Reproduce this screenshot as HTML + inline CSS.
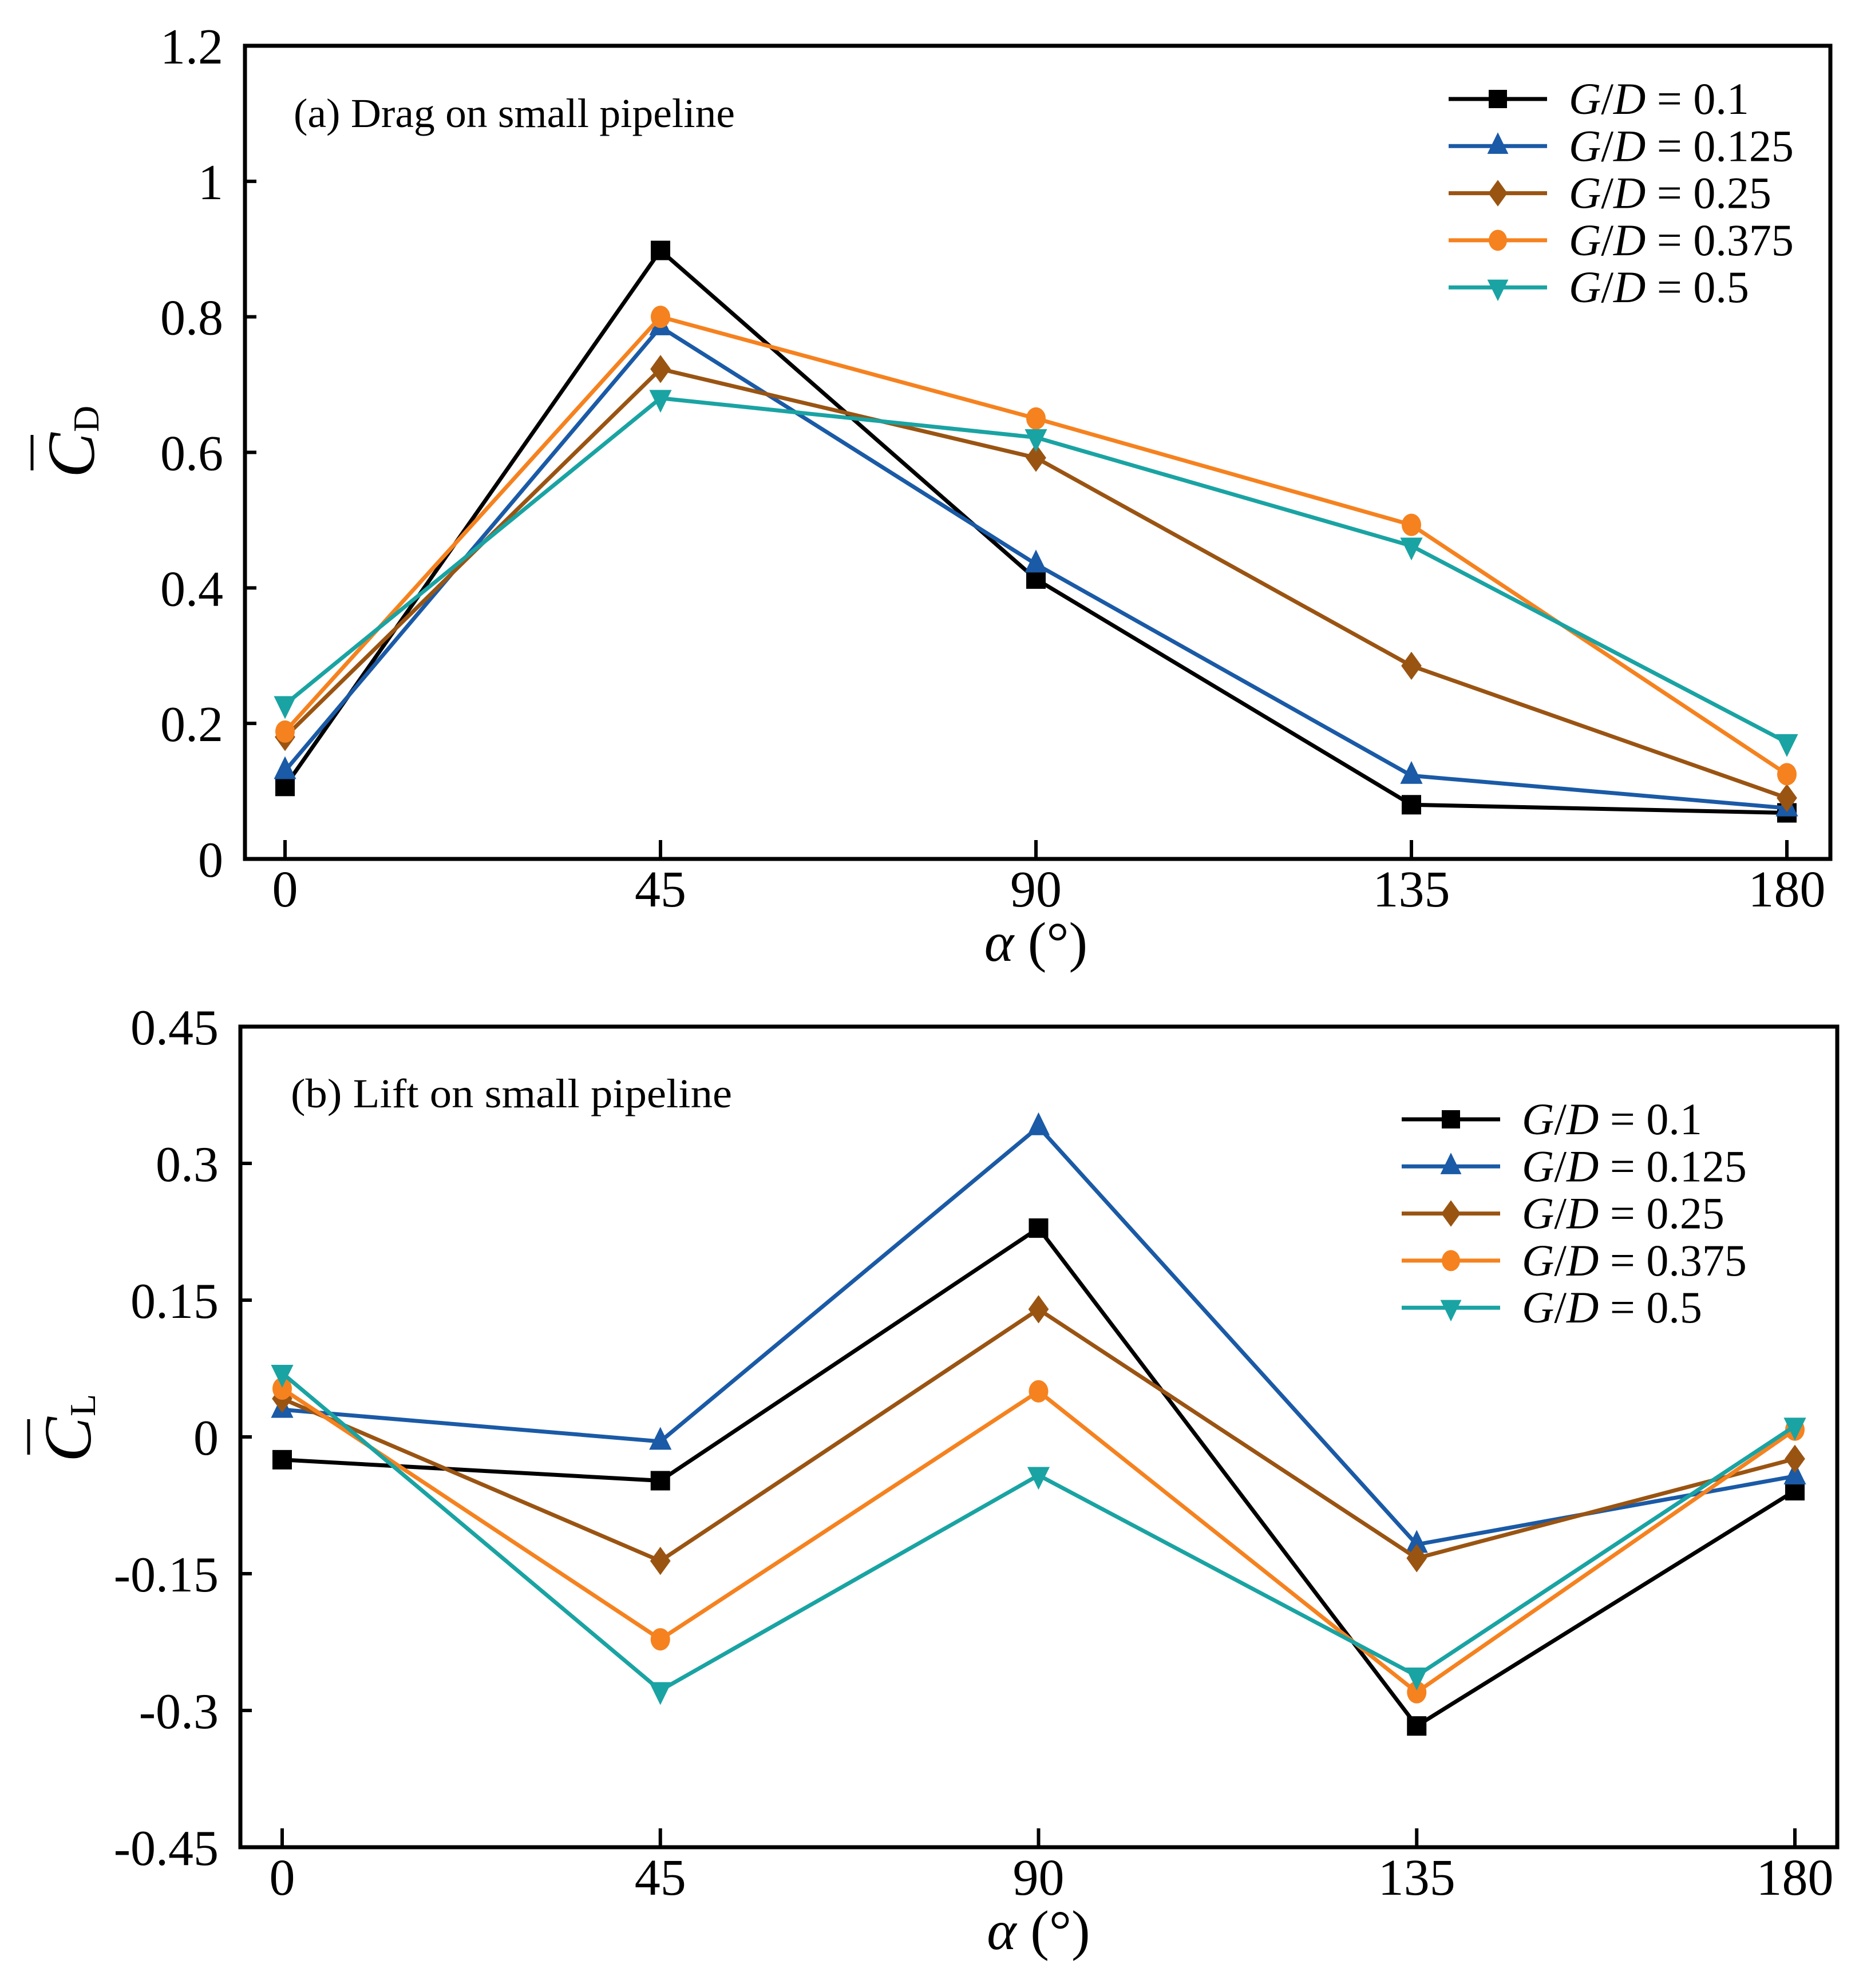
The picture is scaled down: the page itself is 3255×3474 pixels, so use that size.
<!DOCTYPE html>
<html><head><meta charset="utf-8"><style>
html,body{margin:0;padding:0;background:#fff;}
svg{display:block;font-family:"Liberation Serif","Times New Roman",serif;}
</style></head><body>
<svg id="fig" width="3255" height="3474" viewBox="0 0 3255 3474" xmlns="http://www.w3.org/2000/svg"></svg>
<script>
const angles = [0, 45, 90, 135, 180];
const seriesLabels = ["0.1", "0.125", "0.25", "0.375", "0.5"];
const seriesColors = ["#000000", "#1a5aa6", "#9a5412", "#f5821f", "#1aa3a3"];
const seriesMarkers = ["square", "triangle", "diamond", "circle", "triangle-down"];
const dragGD01 = [0.107, 0.898, 0.413, 0.080, 0.068];
const dragGD0125 = [0.130, 0.785, 0.435, 0.123, 0.075];
const dragGD025 = [0.180, 0.723, 0.592, 0.285, 0.090];
const dragGD0375 = [0.188, 0.800, 0.650, 0.493, 0.125];
const dragGD05 = [0.228, 0.680, 0.622, 0.462, 0.172];
const liftGD01 = [-0.025, -0.048, 0.229, -0.317, -0.059];
const liftGD0125 = [0.030, -0.005, 0.340, -0.118, -0.043];
const liftGD025 = [0.042, -0.136, 0.140, -0.133, -0.024];
const liftGD0375 = [0.053, -0.222, 0.050, -0.280, 0.008];
const liftGD05 = [0.070, -0.278, -0.042, -0.262, 0.012];
const dragYTicks = [0, 0.2, 0.4, 0.6, 0.8, 1, 1.2];
const dragYTickLabels = ["0", "0.2", "0.4", "0.6", "0.8", "1", "1.2"];
const liftYTicks = [-0.45, -0.3, -0.15, 0, 0.15, 0.3, 0.45];
const liftYTickLabels = ["-0.45", "-0.3", "-0.15", "0", "0.15", "0.3", "0.45"];
const xTickLabels = ["0", "45", "90", "135", "180"];

const NS = "http://www.w3.org/2000/svg";
const svg = document.getElementById("fig");
function mk(tag, attrs, parent) {
  const e = document.createElementNS(NS, tag);
  for (const k in attrs) e.setAttribute(k, attrs[k]);
  (parent || svg).appendChild(e);
  return e;
}
function marker(g, type, x, y, color, s) {
  let e;
  if (type === "square") e = mk("rect", {x: x - s, y: y - s, width: 2 * s, height: 2 * s, fill: color}, g);
  else if (type === "circle") e = mk("ellipse", {cx: x, cy: y, rx: s, ry: s * 1.15, fill: color}, g);
  else if (type === "diamond") e = mk("polygon", {points: `${x},${y - s * 1.45} ${x + s * 1.05},${y} ${x},${y + s * 1.45} ${x - s * 1.05},${y}`, fill: color}, g);
  else if (type === "triangle") e = mk("polygon", {points: `${x},${y - s * 1.5} ${x + s * 1.15},${y + s * 0.85} ${x - s * 1.15},${y + s * 0.85}`, fill: color}, g);
  else e = mk("polygon", {points: `${x},${y + s * 1.5} ${x + s * 1.15},${y - s * 0.85} ${x - s * 1.15},${y - s * 0.85}`, fill: color}, g);
  
  
  return e;
}

function panel(cfg) {
  const g = mk("g", {});
  
  
  const xS = v => cfg.x0 + (v - 0) / 180 * (cfg.x180 - cfg.x0);
  const yS = v => cfg.bottom + (v - cfg.ymin) / (cfg.ymax - cfg.ymin) * (cfg.top - cfg.bottom);
  cfg.series.forEach((vals, i) => {
    const sg = mk("g", {}, g);
    
    
    const pts = vals.map((v, j) => xS(angles[j]) + "," + yS(v)).join(" ");
    const pl = mk("polyline", {points: pts, fill: "none", stroke: seriesColors[i], "stroke-width": 7, "stroke-linejoin": "miter"}, sg);
    
    
    vals.forEach((v, j) => marker(sg, seriesMarkers[i], xS(angles[j]), yS(v), seriesColors[i], 17));
  });
  const fr = mk("rect", {x: cfg.left, y: cfg.top, width: cfg.right - cfg.left, height: cfg.bottom - cfg.top, fill: "none", stroke: "#000", "stroke-width": 7}, g);
  
  
  angles.forEach((a, j) => {
    const x = xS(a);
    const t = mk("line", {x1: x, x2: x, y1: cfg.bottom, y2: cfg.bottom - 33, stroke: "#000", "stroke-width": 6}, g);
    
    
    const l = mk("text", {x: x, y: cfg.bottom + 83, "font-size": 90, "text-anchor": "middle"}, g);
    l.textContent = xTickLabels[j];
    
    
  });
  cfg.yTicks.forEach((v, j) => {
    const y = yS(v);
    const t = mk("line", {x1: cfg.left, x2: cfg.left + 20, y1: y, y2: y, stroke: "#000", "stroke-width": 6}, g);
    
    
    const l = mk("text", {x: cfg.left - 38, y: y + 31, "font-size": 88, "text-anchor": "end"}, g);
    l.textContent = cfg.yLabels[j];
    
    
  });
  const xt = mk("text", {x: (cfg.x0 + cfg.x180) / 2, y: cfg.bottom + 178, "font-size": 98, "text-anchor": "middle"}, g);
  xt.innerHTML = '<tspan font-style="italic">α</tspan> (°)';
  
  
  const yt = mk("g", {transform: `translate(${cfg.ytx},${cfg.yty}) rotate(-90)`}, g);
  
  
  const yc = mk("text", {x: -45, y: 42, "font-size": 118, "font-style": "italic"}, yt);
  yc.textContent = "C";
  const ys = mk("text", {x: 35, y: 50, "font-size": 64}, yt);
  ys.textContent = cfg.sub;
  mk("line", {x1: -32, x2: 30, y1: -66, y2: -66, stroke: "#000", "stroke-width": 5}, yt);
  const an = mk("text", {x: cfg.annX, y: cfg.annY, "font-size": 72, textLength: 771, lengthAdjust: "spacingAndGlyphs"}, g);
  an.textContent = cfg.ann;
  
  
  const lg = mk("g", {}, g);
  
  
  seriesLabels.forEach((s, i) => {
    const y = cfg.legY + i * 82.3;
    const eg = mk("g", {}, lg);
    
    
    mk("line", {x1: cfg.legX, x2: cfg.legX + 172, y1: y, y2: y, stroke: seriesColors[i], "stroke-width": 7}, eg);
    marker(eg, seriesMarkers[i], cfg.legX + 86, y, seriesColors[i], 16);
    const t = mk("text", {x: cfg.legX + 210, y: y + 26, "font-size": 78}, eg);
    t.innerHTML = '<tspan font-style="italic">G</tspan>/<tspan font-style="italic">D</tspan> = ' + s;
  });
}

panel({name: "drag-panel", left: 428, right: 3198, top: 80, bottom: 1501, x0: 498, x180: 3122,
  ymin: 0, ymax: 1.2, yTicks: dragYTicks, yLabels: dragYTickLabels,
  series: [dragGD01, dragGD0125, dragGD025, dragGD0375, dragGD05],
  sub: "D", ytx: 122, yty: 790, ann: "(a) Drag on small pipeline", annX: 513, annY: 222,
  legX: 2531, legY: 173});
panel({name: "lift-panel", left: 420, right: 3210, top: 1794, bottom: 3228, x0: 493, x180: 3136,
  ymin: -0.45, ymax: 0.45, yTicks: liftYTicks, yLabels: liftYTickLabels,
  series: [liftGD01, liftGD0125, liftGD025, liftGD0375, liftGD05],
  sub: "L", ytx: 116, yty: 2510, ann: "(b) Lift on small pipeline", annX: 508, annY: 1935,
  legX: 2449, legY: 1956});
</script>
</body></html>
